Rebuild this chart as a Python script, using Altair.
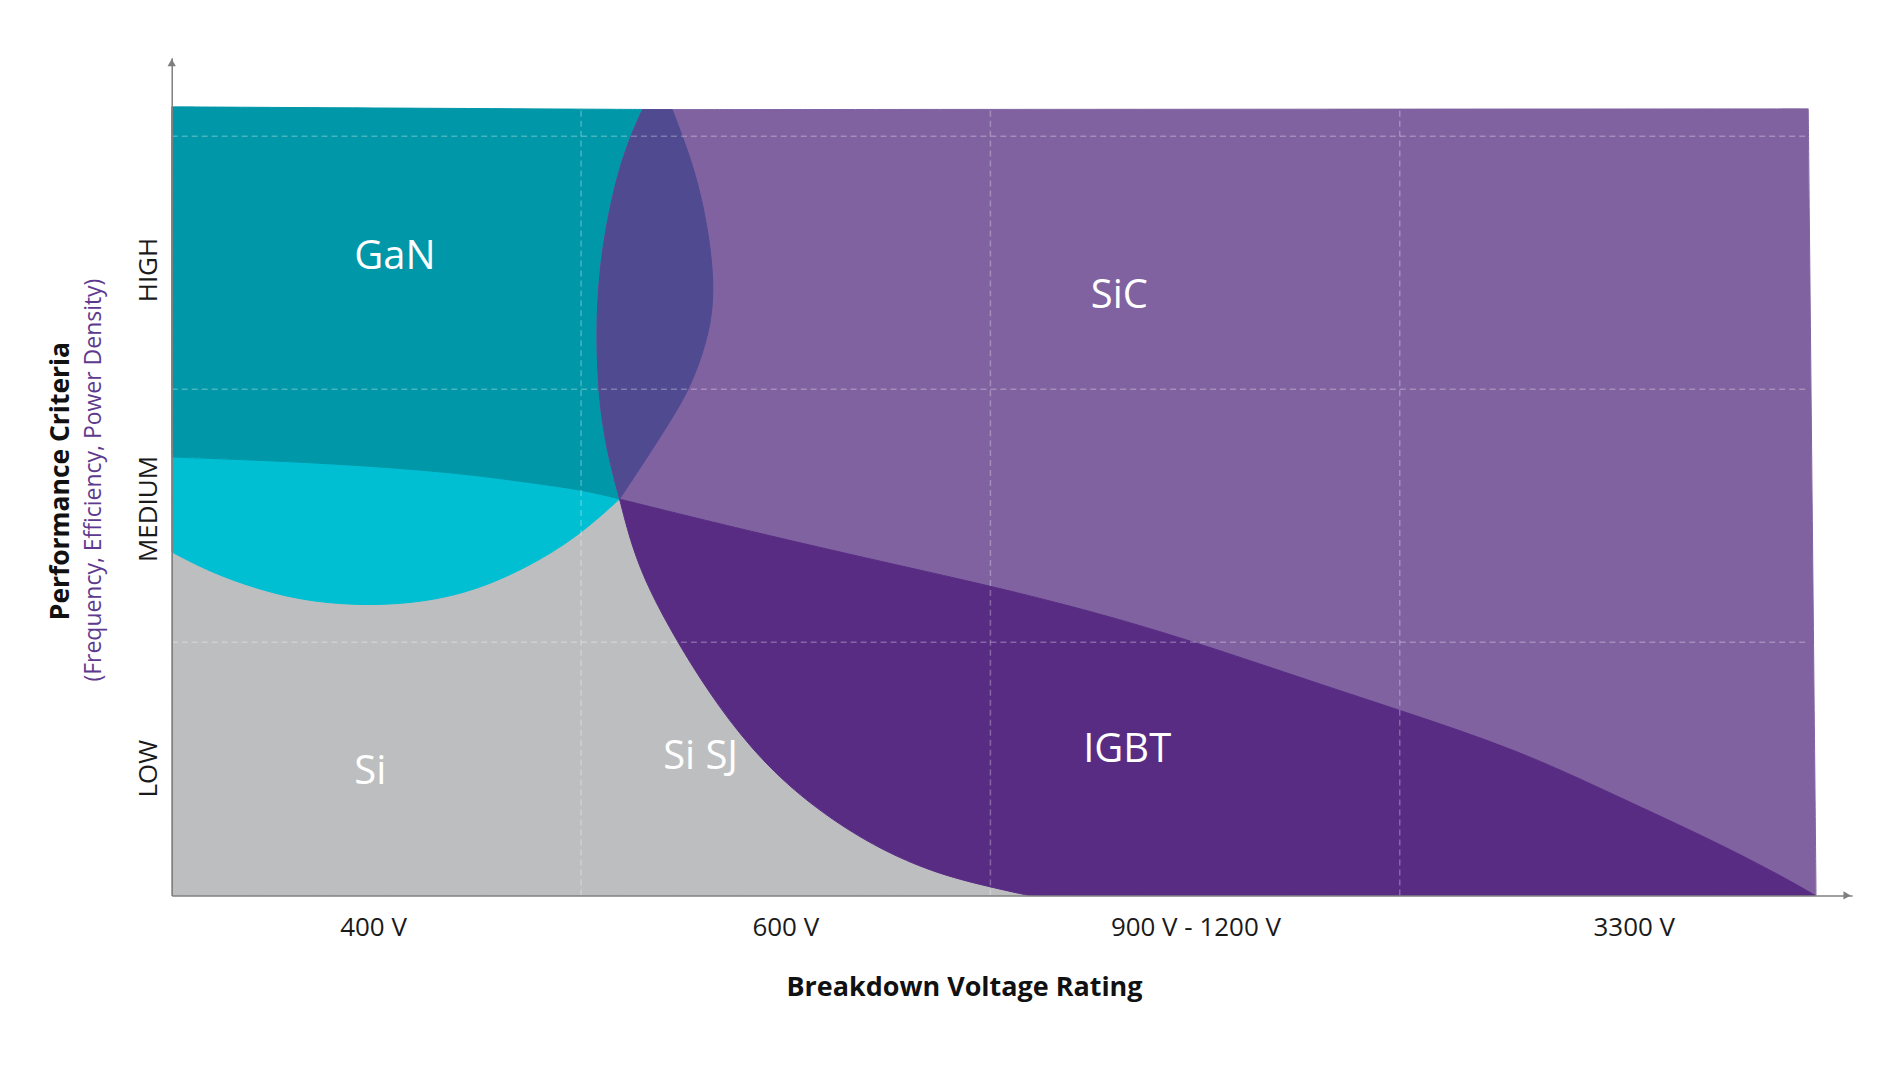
import altair as alt
import pandas as pd

# ---- boundaries (x: voltage-class columns, y: performance levels) ----
sic_left_x = [1.150, 1.121, 1.089, 1.062, 1.044, 1.037, 1.042, 1.052, 1.067, 1.094]
sic_left_y = [3.105, 3.002, 2.852, 2.655, 2.457, 2.233, 2.008, 1.866, 1.732, 1.566]
gan_right_x = [1.223, 1.247, 1.280, 1.308, 1.323, 1.322, 1.308, 1.268, 1.215, 1.162, 1.094]
gan_right_y = [3.105, 3.002, 2.852, 2.655, 2.457, 2.323, 2.193, 2.008, 1.866, 1.732, 1.566]
gan_low_x = [0.0, 0.215, 0.459, 0.702, 0.866, 1.007, 1.094]
gan_low_y = [1.732, 1.720, 1.700, 1.669, 1.633, 1.602, 1.566]
si_top_x = [0.0, 0.093, 0.215, 0.337, 0.483, 0.622, 0.744, 0.866, 0.988, 1.094]
si_top_y = [1.357, 1.278, 1.207, 1.160, 1.144, 1.160, 1.207, 1.294, 1.412, 1.566]
igbt_left_x = [1.094, 1.124, 1.166, 1.232, 1.312, 1.410, 1.532, 1.695, 1.856, 2.002, 2.093]
igbt_left_y = [1.566, 1.377, 1.207, 1.010, 0.801, 0.588, 0.391, 0.209, 0.091, 0.032, 0.0]
igbt_top_x = [1.094, 1.368, 1.695, 2.002, 2.263, 2.483, 2.751, 2.995, 3.288, 3.532, 3.776, 3.939, 4.015]
igbt_top_y = [1.566, 1.456, 1.333, 1.223, 1.116, 1.010, 0.864, 0.734, 0.576, 0.391, 0.209, 0.071, 0.0]
frame_x = [0.0, 3.998, 4.017, 0.0]      # top-left, top-right, bottom-right, origin
frame_y = [3.116, 3.108, 0.0, 0.0]

region_names = ["GaN", "SiC", "Si", "Si SJ", "IGBT"]
region_x = [0.545, 2.315, 0.485, 1.292, 2.334]
region_y = [2.521, 2.367, 0.488, 0.548, 0.573]

xtick_labels = ["400 V", "600 V", "900 V - 1200 V", "3300 V"]
xtick_pos = [0.493, 1.500, 2.502, 3.573]
ytick_labels = ["LOW", "MEDIUM", "HIGH"]
ytick_pos = [0.501, 1.527, 2.471]
grid_x = [1, 2, 3]
grid_y = [1, 2, 3]

COL = {"Si": "#BDBEC0", "GaNlow": "#00BFD2", "GaN": "#0097A9",
       "SiC": "#8062A1", "IGBT": "#582C83", "overlap": "#504A91"}

XMAX, YMAX = 4.105, 3.31
xs = alt.Scale(domain=[0, XMAX], nice=False, zero=False)
ys = alt.Scale(domain=[0, YMAX], nice=False, zero=False)
ax = alt.Axis(title="", labels=False, ticks=False, grid=False,
              domainColor="#7f7f7f", domainWidth=1.5, zindex=1)


def pts(xl, yl):
    return list(zip(xl, yl))


def rev(p):
    return list(reversed(p))


def corner(p):
    # a B-spline passes through a point given three times, keeping the corner sharp
    return [p, p, p]


sic_left = pts(sic_left_x, sic_left_y)
gan_right = pts(gan_right_x, gan_right_y)
gan_low = pts(gan_low_x, gan_low_y)
si_top = pts(si_top_x, si_top_y)
igbt_left = pts(igbt_left_x, igbt_left_y)
igbt_top = pts(igbt_top_x, igbt_top_y)
TL, TR, BR, O = pts(frame_x, frame_y)
P = sic_left[-1]
A = igbt_left[-1]
IE = igbt_top[-1]
L1 = si_top[0]
L2 = gan_low[0]
S0 = sic_left[0]
G0 = gan_right[0]

polys = [
    ("Si", corner(O) + corner(A) + rev(igbt_left)[1:-1] + corner(P) + rev(si_top)[1:-1] + corner(L1)),
    ("GaNlow", corner(L1) + si_top[1:-1] + corner(P) + rev(gan_low)[1:-1] + corner(L2)),
    ("GaN", corner(TL) + corner(G0) + gan_right[1:-1] + corner(P) + rev(gan_low)[1:-1] + corner(L2)),
    ("SiC", corner(S0) + corner(TR) + corner(BR) + corner(IE) + rev(igbt_top)[1:-1]
     + corner(P) + rev(sic_left)[1:-1]),
    ("IGBT", corner(P) + igbt_top[1:-1] + corner(IE) + corner(A) + rev(igbt_left)[1:-1]),
    ("overlap", corner(S0) + sic_left[1:-1] + corner(P) + rev(gan_right)[1:-1] + corner(G0)),
]


def poly_layer(name, p):
    df = pd.DataFrame({"x": [a for a, b in p], "y": [b for a, b in p], "i": list(range(len(p)))})
    c = COL[name]
    return alt.Chart(df).mark_line(interpolate="basis-closed", fill=c, color=c,
                                   strokeWidth=1, strokeJoin="round").encode(
        x=alt.X("x:Q", scale=xs, axis=ax),
        y=alt.Y("y:Q", scale=ys, axis=ax),
        order=alt.Order("i:Q"),
    )


layers = [poly_layer(n, p) for n, p in polys]

grid_style = dict(color="white", opacity=0.28, strokeDash=[6, 4], strokeWidth=1.5)
gv = pd.DataFrame({"x": grid_x, "y0": [0.0] * 3, "y1": [3.11] * 3})
gh = pd.DataFrame({"y": grid_y, "x0": [0.0] * 3, "x1": [3.998] * 3})
layers.append(alt.Chart(gv).mark_rule(**grid_style).encode(
    x=alt.X("x:Q", scale=xs, axis=ax), y=alt.Y("y0:Q", scale=ys, axis=ax), y2="y1:Q"))
layers.append(alt.Chart(gh).mark_rule(**grid_style).encode(
    y=alt.Y("y:Q", scale=ys, axis=ax), x=alt.X("x0:Q", scale=xs, axis=ax), x2="x1:Q"))

# axis arrow heads
arr_up = pd.DataFrame({"x": [0.0], "y": [YMAX]})
arr_rt = pd.DataFrame({"x": [XMAX], "y": [0.0]})
layers.append(alt.Chart(arr_up).mark_point(shape="triangle-up", filled=True, color="#7f7f7f",
                                           opacity=1, size=70, yOffset=5).encode(
    x=alt.X("x:Q", scale=xs, axis=ax), y=alt.Y("y:Q", scale=ys, axis=ax)))
layers.append(alt.Chart(arr_rt).mark_point(shape="triangle-right", filled=True, color="#7f7f7f",
                                           opacity=1, size=70, xOffset=-5).encode(
    x=alt.X("x:Q", scale=xs, axis=ax), y=alt.Y("y:Q", scale=ys, axis=ax)))

# region labels
lab = pd.DataFrame({"t": region_names, "x": region_x, "y": region_y})
layers.append(alt.Chart(lab).mark_text(font="Open Sans", fontSize=40, color="white",
                                       align="center", baseline="middle").encode(
    x=alt.X("x:Q", scale=xs, axis=ax), y=alt.Y("y:Q", scale=ys, axis=ax), text="t:N"))

# tick labels
xt = pd.DataFrame({"t": xtick_labels, "x": xtick_pos})
layers.append(alt.Chart(xt).mark_text(font="Open Sans", fontSize=26, color="#1a1a1a",
                                      align="center", baseline="middle").encode(
    x=alt.X("x:Q", scale=xs, axis=ax), y=alt.value(872), text="t:N"))
yt = pd.DataFrame({"t": ytick_labels, "y": ytick_pos})
layers.append(alt.Chart(yt).mark_text(font="Open Sans", fontSize=26, color="#1a1a1a",
                                      align="center", baseline="middle", angle=270).encode(
    y=alt.Y("y:Q", scale=ys, axis=ax), x=alt.value(-23), text="t:N"))

# titles
t1 = pd.DataFrame({"t": ["Breakdown Voltage Rating"]})
layers.append(alt.Chart(t1).mark_text(font="Open Sans", fontSize=27, fontWeight="bold",
                                      color="#111111", align="center", baseline="middle").encode(
    x=alt.value(794), y=alt.value(932), text="t:N"))
t2 = pd.DataFrame({"t": ["Performance Criteria"]})
layers.append(alt.Chart(t2).mark_text(font="Open Sans", fontSize=26.5, fontWeight="bold",
                                      color="#111111", align="center", baseline="middle",
                                      angle=270).encode(
    x=alt.value(-111), y=alt.value(424), text="t:N"))
t3 = pd.DataFrame({"t": ["(Frequency, Efficiency, Power Density)"]})
layers.append(alt.Chart(t3).mark_text(font="Open Sans", fontSize=23, color="#5E3A8E",
                                      align="center", baseline="middle", angle=270).encode(
    x=alt.value(-78), y=alt.value(423), text="t:N"))

chart = alt.layer(*layers).properties(
    width=round(XMAX * 410), height=round(YMAX * 253.5),
    padding={"left": 164, "top": 49, "right": 40, "bottom": 150},
    autosize=alt.AutoSizeParams(type="none"),
).configure_view(stroke=None)

chart.save("out.html", embed_options={"renderer": "svg", "actions": False})
